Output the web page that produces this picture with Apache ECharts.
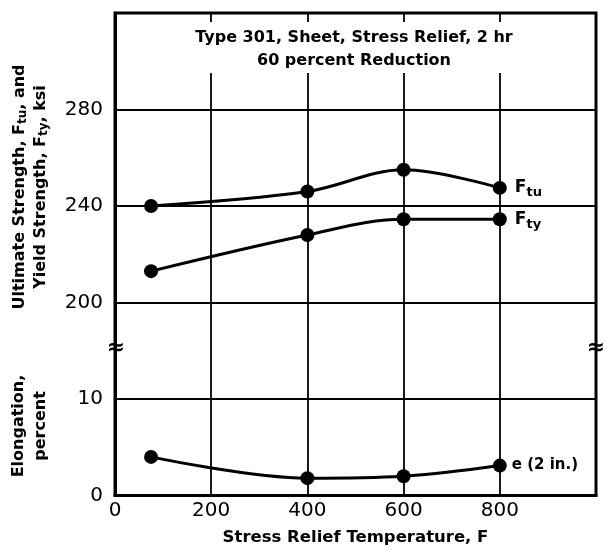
<!DOCTYPE html>
<html><head><meta charset="utf-8">
<script src="https://cdn.jsdelivr.net/npm/echarts@6/dist/echarts.min.js"></script>
<style>html,body{margin:0;padding:0;background:#fff}#c{width:604px;height:551px}</style>
</head><body><div id="c"></div>
<script>
// Data
var temps = [75, 400, 600, 800];
var ftu = [240, 246, 255, 247.5];     // ksi
var fty = [213, 228, 234.5, 234.5];   // ksi
var elong = [4.0, 1.8, 2.0, 3.1];     // percent
var xTicks = [0, 200, 400, 600, 800];
var yTickLabels = {0: '0', 10: '10', 20: '200', 30: '240', 40: '280'};

// broken axis: lower part elongation (0..15), upper part strength, 4 ksi per unit, 200 ksi at 20
function strengthToAxis(s) { return 20 + (s - 200) / 4; }

var FONT = '"DejaVu Sans", Verdana, sans-serif';
var chart = echarts.init(document.getElementById('c'));
function pts(vals, f) { return temps.map(function (t, i) { return [t, f ? f(vals[i]) : vals[i]]; }); }
var rich = {
  b: {fontFamily: FONT, fontWeight: 'bold', fontSize: 17, color: '#000'},
  s: {fontFamily: FONT, fontWeight: 'bold', fontSize: 13, color: '#000', verticalAlign: 'bottom', padding: [10, 0, 0, 0]}
};
function serie(name, data, lbl, dist) {
  return {
    name: name, type: 'line', smooth: 0.35, data: data,
    symbol: 'circle', symbolSize: 14,
    lineStyle: {color: '#000', width: 3},
    itemStyle: {color: '#000'},
    z: 5,
    label: {
      show: true, position: 'right', distance: dist,
      formatter: function (p) { return p.dataIndex === temps.length - 1 ? lbl : ''; },
      rich: rich, fontFamily: FONT, fontWeight: 'bold', fontSize: 15, color: '#000'
    }
  };
}

chart.setOption({
  animation: false,
  backgroundColor: '#fff',
  grid: {left: 115, right: 8, top: 13, bottom: 53, show: true, borderColor: '#000', borderWidth: 3, z: 3},
  xAxis: {
    type: 'value', min: 0, max: 1000, interval: 200,
    axisLine: {show: true, lineStyle: {color: '#000', width: 3}},
    axisTick: {show: false},
    splitLine: {show: true, lineStyle: {color: '#000', width: 1.8}},
    axisLabel: {
      color: '#000', fontFamily: FONT, fontSize: 20, margin: 5,
      formatter: function (v) { return xTicks.indexOf(v) >= 0 ? String(v) : ''; }
    },
    name: 'Stress Relief Temperature, F', nameLocation: 'middle', nameGap: 42,
    nameTextStyle: {color: '#000', fontFamily: FONT, fontWeight: 'bold', fontSize: 16.5, verticalAlign: 'middle'}
  },
  yAxis: {
    type: 'value', min: 0, max: 50, interval: 10,
    axisLine: {show: true, lineStyle: {color: '#000', width: 3}},
    axisTick: {show: false},
    splitLine: {show: true, lineStyle: {color: '#000', width: 1.8}},
    axisLabel: {
      color: '#000', fontFamily: FONT, fontSize: 20, margin: 12,
      formatter: function (v) { return yTickLabels[v] !== undefined ? yTickLabels[v] : ''; }
    }
  },
  series: [
    serie('Ftu', pts(ftu, strengthToAxis), '{b|F}{s|tu}', 8),
    serie('Fty', pts(fty, strengthToAxis), '{b|F}{s|ty}', 8),
    serie('e', pts(elong), 'e (2 in.)', 5)
  ],
  graphic: [
    {type: 'rect', shape: {x: 118, y: 22, width: 475, height: 51}, style: {fill: '#fff'}, z: 10},
    {type: 'text', x: 354, y: 38, z: 11, style: {text: 'Type 301, Sheet, Stress Relief, 2 hr', font: 'bold 16px ' + FONT, fill: '#000', align: 'center', verticalAlign: 'middle'}},
    {type: 'text', x: 354, y: 61, z: 11, style: {text: '60 percent Reduction', font: 'bold 16px ' + FONT, fill: '#000', align: 'center', verticalAlign: 'middle'}},
    {type: 'text', x: 30, y: 187, rotation: Math.PI / 2, z: 11, style: {
      text: '{b|Ultimate Strength, F}{s|tu}{b|, and}\n{b|Yield Strength, F}{s|ty}{b|, ksi}',
      align: 'center', verticalAlign: 'middle', lineHeight: 21,
      rich: {b: {font: 'bold 16px ' + FONT, fill: '#000', lineHeight: 21}, s: {font: 'bold 12px ' + FONT, fill: '#000', padding: [7, 0, 0, 0], lineHeight: 21}}
    }},
    {type: 'text', x: 30, y: 426, rotation: Math.PI / 2, z: 11, style: {
      text: 'Elongation,\npercent', font: 'bold 16px ' + FONT, fill: '#000', align: 'center', verticalAlign: 'middle', lineHeight: 22
    }},
    {type: 'text', x: 116, y: 348, z: 11, style: {text: '≈', font: 'bold 22px ' + FONT, fill: '#000', align: 'center', verticalAlign: 'middle'}},
    {type: 'text', x: 596, y: 348, z: 11, style: {text: '≈', font: 'bold 22px ' + FONT, fill: '#000', align: 'center', verticalAlign: 'middle'}}
  ]
});
</script></body></html>
